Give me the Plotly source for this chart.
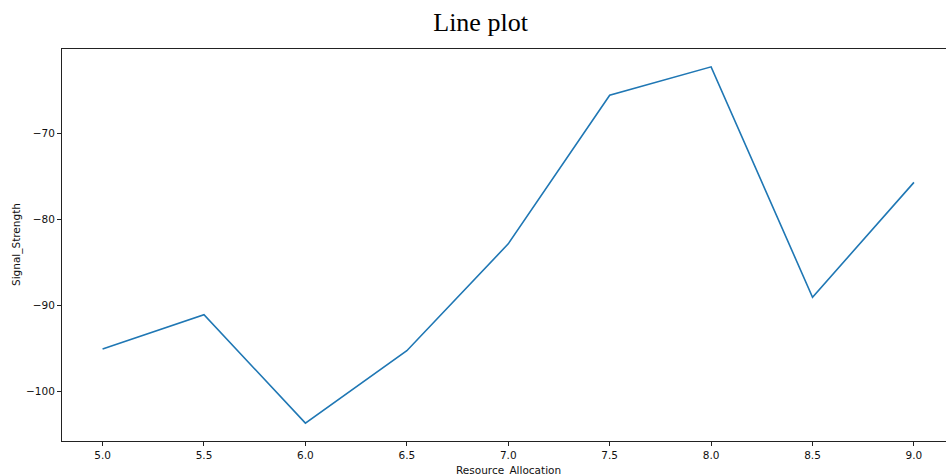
import plotly.graph_objects as go

resource_allocation = [5.0, 5.5, 6.0, 6.5, 7.0, 7.5, 8.0, 8.5, 9.0]
signal_strength = [-95.03, -91.05, -103.64, -95.23, -82.83, -65.58, -62.29, -89.03, -75.70]
x_ticks = [5.0, 5.5, 6.0, 6.5, 7.0, 7.5, 8.0, 8.5, 9.0]
y_ticks = [-100, -90, -80, -70]

fig = go.Figure()
fig.add_trace(go.Scatter(
    x=resource_allocation, y=signal_strength, mode="lines",
    line=dict(color="#1f77b4", width=1.6), showlegend=False,
))

axis_font = dict(family="DejaVu Sans", size=10.5, color="#111")

fig.update_layout(
    width=946, height=476,
    margin=dict(l=62, r=0, t=49, b=35),
    paper_bgcolor="white", plot_bgcolor="white",
    title=dict(text="Line plot", x=0.508, xanchor="center", y=0.953, yanchor="middle",
               font=dict(family="Liberation Serif, Times New Roman, serif", size=26, color="#000")),
    xaxis=dict(
        range=[4.8, 9.158], tickvals=x_ticks, ticktext=[f"{v:.1f}" for v in x_ticks],
        showgrid=False, zeroline=False, showline=True, linecolor="#222", linewidth=1,
        mirror=True, ticks="outside", ticklen=4, tickcolor="#222", tickfont=axis_font,
    ),
    yaxis=dict(
        range=[-105.71, -60.22], tickvals=y_ticks, ticktext=["\u2212" + str(abs(v)) for v in y_ticks],
        showgrid=False, zeroline=False, showline=True, linecolor="#222", linewidth=1,
        mirror=False, ticks="outside", ticklen=4, tickcolor="#222", tickfont=axis_font,
    ),
    annotations=[
        dict(
            text="Resource_Allocation", xref="paper", yref="paper",
            x=(508 - 62) / 884, y=0, yshift=-29, xanchor="center", yanchor="middle",
            showarrow=False, font=axis_font,
        ),
        dict(
            text="Signal_Strength", xref="paper", yref="paper",
            x=0, xshift=-46, y=0.5, xanchor="center", yanchor="middle", textangle=-90,
            showarrow=False, font=axis_font,
        ),
    ],
)

fig.write_html(
    "out.html",
    config={"displayModeBar": False},
    post_script="document.body.style.margin='0';document.body.style.overflow='hidden';",
)
